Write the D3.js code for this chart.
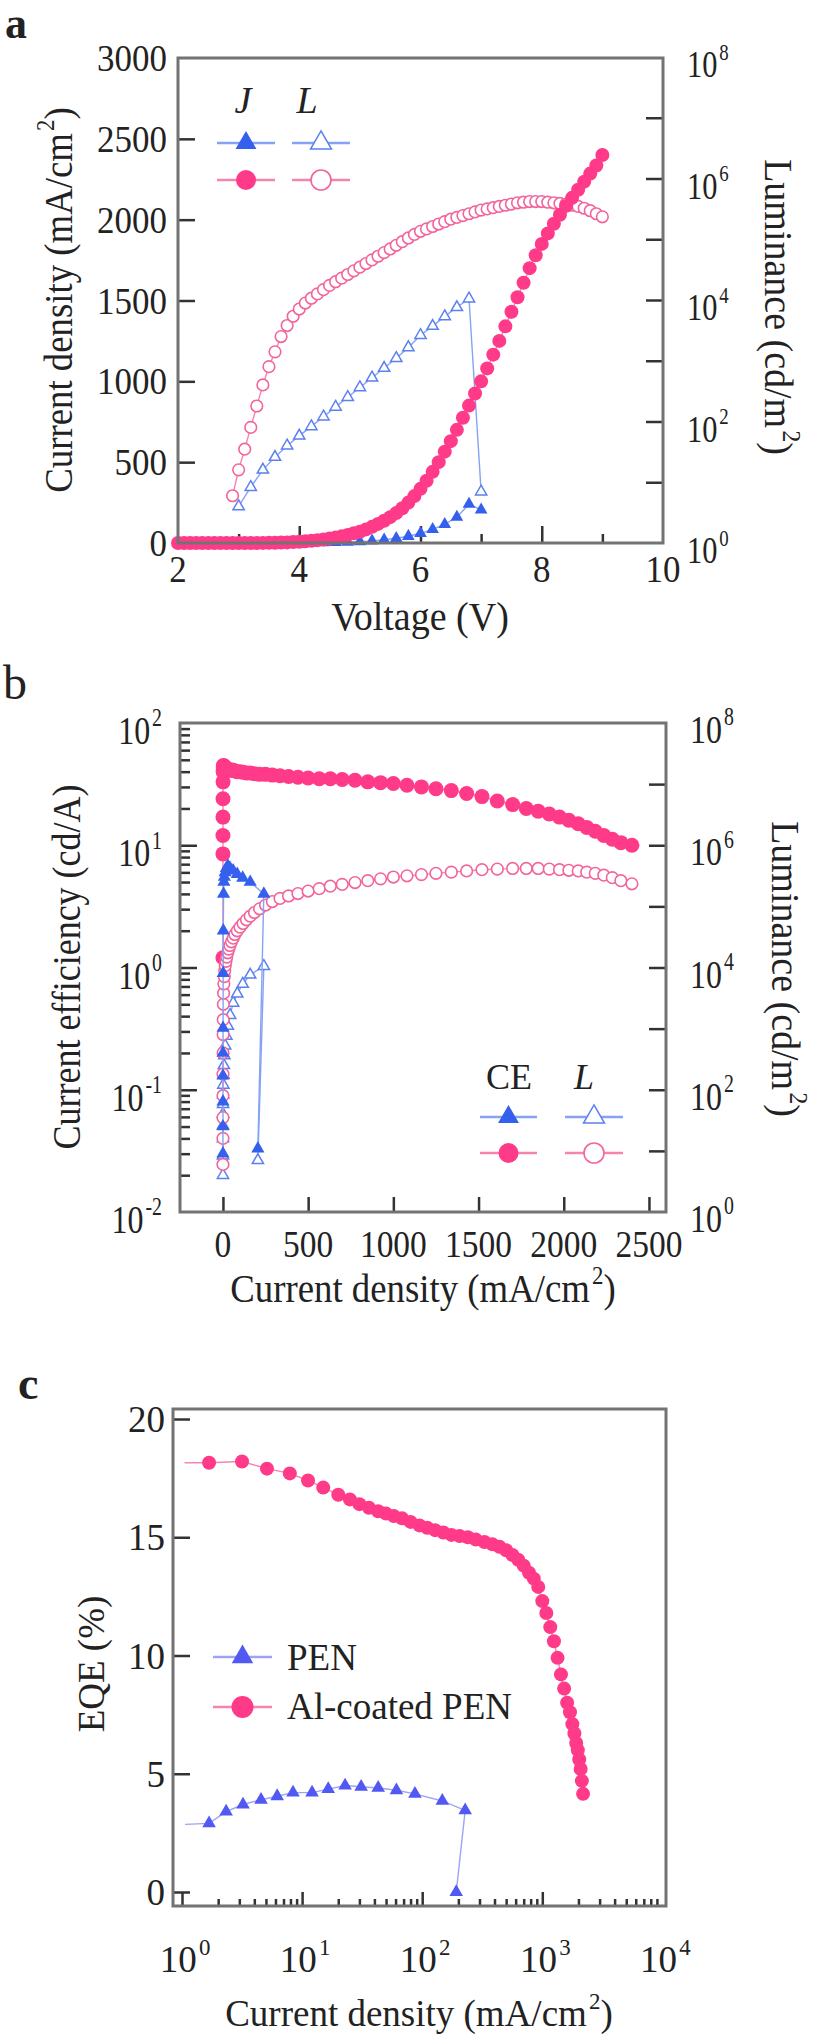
<!DOCTYPE html>
<html>
<head>
<meta charset="utf-8">
<script src="https://d3js.org/d3.v7.min.js"></script>
<style>
  body { margin: 0; background: #fff; }
  svg text { font-family: "Liberation Serif", "DejaVu Serif", serif; fill: #222; }
</style>
</head>
<body>
<script>
// ---------- data ----------
// panel a / b : Al-coated PEN device, 0.1 V steps
var voltPink = [2.0,2.1,2.2,2.3,2.4,2.5,2.6,2.7,2.8,2.9,3.0,3.1,3.2,3.3,3.4,3.5,3.6,3.7,3.8,3.9,
  4.0,4.1,4.2,4.3,4.4,4.5,4.6,4.7,4.8,4.9,5.0,5.1,5.2,5.3,5.4,5.5,5.6,5.7,5.8,5.9,
  6.0,6.1,6.2,6.3,6.4,6.5,6.6,6.7,6.8,6.9,7.0,7.1,7.2,7.3,7.4,7.5,7.6,7.7,7.8,7.9,
  8.0,8.1,8.2,8.3,8.4,8.5,8.6,8.7,8.8,8.9,9.0];
var jPink = [0,0,0,0,0,0,0,0,0,0.05,0.08,0.13,0.22,0.38,0.62,1,1.6,2.5,3.8,5.5,
  8,10.5,13.5,17.5,22,28,34,41,50,60,70,84,100,118,138,160,185,215,250,290,
  335,385,440,500,565,630,700,775,850,925,1000,1080,1165,1250,1340,1430,1520,1610,1700,1780,
  1850,1915,1975,2030,2085,2135,2185,2235,2285,2335,2400];
var lumPink = [null,null,null,null,null,null,null,null,null,6,16,35,80,180,400,800,1400,2500,3800,5400,
  7100,8900,10700,12600,14800,17400,20000,22900,26300,30200,34700,39800,45700,52500,60300,69200,79400,91200,105000,120000,
  135000,148000,162000,178000,195000,214000,229000,245000,263000,282000,302000,316000,331000,347000,363000,380000,398000,407000,417000,417000,
  417000,407000,398000,389000,380000,363000,347000,324000,295000,263000,234000];
var cePink = [null,null,null,null,null,null,null,null,null,1.2,8.5,12,17,24,33,40,43,44.5,45,44.5,
  44,43.5,43,42.5,42,42,41.5,41.5,41,41,40.5,40,40,39.5,39,39,38.5,38,38,37.5,
  37,36.5,36,35.5,35,35,34.5,34,33,32.5,32,31,30,29,28,26.5,25,23,21.5,20,
  19,18,17,16,15,14,13,12,11.2,10.5,10];

// PEN device, 0.2 V steps
var voltBlue = [2.0,2.2,2.4,2.6,2.8,3.0,3.2,3.4,3.6,3.8,4.0,4.2,4.4,4.6,4.8,5.0,5.2,5.4,5.6,5.8,6.0,6.2,6.4,6.6,6.8,7.0];
var jBlue = [0,0,0,0,0,0.02,0.05,0.1,0.2,0.4,0.75,1.3,2.2,3.5,5.5,8.5,13,20,29,42,60,84,116,160,240,205];
var lumBlue = [null,null,null,null,null,4,8.3,16,26,40,58,83,120,174,251,363,525,759,1100,1660,2630,3720,5370,7590,10500,7];
var ceBlue = [null,null,null,null,null,0.03,0.05,0.08,0.13,0.2,0.32,0.9,2,4,5,5.5,6,6.5,6.8,6.5,6.2,5.8,5.4,5,4.0,0.033];

// panel c : EQE vs current density
var eqeJPink = [1.05,1.68,3.16,5.1,7.9,11.2,15,20,25,30,36,43,50,58,68,80,95,110,128,150,175,205,240,280,330,
  385,440,500,565,630,700,775,850,925,1000,1080,1165,1250,1340,1430,1520,1610,1700,1780,1850,1915,1975,2030,2085,2135,2185];
var eqePink = [18.15,18.15,18.2,17.9,17.7,17.4,17.1,16.8,16.6,16.4,16.25,16.1,16.0,15.9,15.8,15.65,15.5,15.4,15.3,15.2,15.1,15.05,15.0,14.9,14.8,
  14.7,14.6,14.45,14.25,14.05,13.8,13.5,13.25,12.9,12.3,11.8,11.2,10.6,9.9,9.2,8.6,8.0,7.6,7.1,6.7,6.3,6.0,5.6,5.2,4.7,4.15];
var eqeJBlue = [1.06,1.68,2.33,3.22,4.55,6.2,8.4,12.1,16.5,22.8,31,43,61,87,147,228,192];
var eqeBlue = [2.86,2.9,3.4,3.7,3.9,4.05,4.2,4.2,4.35,4.5,4.45,4.4,4.3,4.15,3.85,3.45,0.0];

// tick labels
var ticksA = [0,500,1000,1500,2000,2500,3000];
var ticksAx = [2,4,6,8,10];
var powAR = [0,2,4,6,8];
var powBL = [-2,-1,0,1,2];
var powBR = [0,2,4,6,8];
var ticksBx = [0,500,1000,1500,2000,2500];
var ticksC = [0,5,10,15,20];
var powCx = [0,1,2,3,4];

// ---------- style ----------
var pink = '#ff3a88', pinkLine = '#f585ae', pinkOpen = '#f2649c';
var blue = '#3560ee', blueLine = '#86a2f3', blueOpen = '#5b80f0';
var blueC = '#5159f2', blueCLine = '#9ea3f6';
var frameCol = '#737373', tickCol = '#333';

var svg = d3.select('body').append('svg').attr('width', 827).attr('height', 2037);

function label(x, y, parts, o) {
  o = o || {};
  var F = o.size || 38;
  var tr = 'translate(' + x + ',' + y + ')';
  if (o.rot) tr += ' rotate(' + o.rot + ')';
  if (o.sx || o.sy) tr += ' scale(' + (o.sx || 1) + ',' + (o.sy || 1) + ')';
  var t = svg.append('text').attr('transform', tr)
    .attr('text-anchor', o.anchor || 'middle')
    .style('font-size', F + 'px');
  if (o.bold) t.style('font-weight', 'bold');
  if (o.italic) t.style('font-style', 'italic');
  if (typeof parts === 'string') parts = [parts];
  var up = false;
  parts.forEach(function(p) {
    var sup = typeof p === 'object';
    var s = t.append('tspan').text(sup ? p.sup : p);
    if (sup) {
      s.style('font-size', (F * 0.62) + 'px').attr('dx', F * 0.06);
      if (!up) { s.attr('dy', -F * 0.45); up = true; }
    } else if (up) { s.attr('dy', F * 0.45); up = false; }
  });
  return t;
}

function frame(x0, y0, x1, y1) {
  svg.append('rect').attr('x', x0).attr('y', y0).attr('width', x1 - x0).attr('height', y1 - y0)
    .attr('fill', 'none').attr('stroke', frameCol).attr('stroke-width', 3);
}

function ticks(scale, vals, orient, pos, len) {
  var ax = orient === 'left' ? d3.axisLeft(scale) : orient === 'right' ? d3.axisRight(scale)
         : d3.axisBottom(scale);
  ax.tickValues(vals).tickSize(-len).tickFormat('');
  var g = svg.append('g').attr('transform', orient === 'bottom' ? 'translate(0,' + pos + ')' : 'translate(' + pos + ',0)').call(ax);
  g.select('.domain').remove();
  g.selectAll('line').attr('stroke', tickCol).attr('stroke-width', 2.5);
}

function series(pts, o) {
  pts = pts.filter(function(d) { return d != null; });
  var g = svg.append('g');
  g.append('path').attr('d', d3.line()(pts)).attr('fill', 'none')
    .attr('stroke', o.line).attr('stroke-width', o.lw || 1.4);
  var data = o.skipFirst ? pts.slice(1) : pts;
  var m = g.selectAll(null).data(data).enter();
  var fill = o.open ? '#fff' : o.color;
  var sk = o.open ? o.color : 'none';
  if (o.shape === 'circle') {
    m.append('circle').attr('cx', function(d) { return d[0]; }).attr('cy', function(d) { return d[1]; })
      .attr('r', o.r).attr('fill', fill).attr('stroke', sk).attr('stroke-width', 1.6);
  } else {
    m.append('path').attr('d', d3.symbol(d3.symbolTriangle, o.size || 60)())
      .attr('transform', function(d) { return 'translate(' + d[0] + ',' + d[1] + ')'; })
      .attr('fill', fill).attr('stroke', sk).attr('stroke-width', 1.5);
  }
}

function legendRow(x0, x1, y, o) {
  svg.append('line').attr('x1', x0).attr('x2', x1).attr('y1', y).attr('y2', y)
    .attr('stroke', o.line).attr('stroke-width', 2.5);
  series([[(x0 + x1) / 2, y]], { shape: o.shape, color: o.color, open: o.open, r: o.r, size: o.size, line: 'none' });
}

// ================= panel a =================
var xA = d3.scaleLinear().domain([2, 10]).range([178, 663]);
var yA = d3.scaleLinear().domain([0, 3000]).range([543, 58]);
var yAR = d3.scaleLog().domain([1, 1e8]).range([543, 57]);

ticks(yA, ticksA.slice(1, -1), 'left', 178, 17);
ticks(yAR, [1e1, 1e2, 1e3, 1e4, 1e5, 1e6, 1e7], 'right', 663, 17);
ticks(xA, [4, 6, 8], 'bottom', 543, 17);
ticks(xA, [3, 5, 7, 9], 'bottom', 543, 9);

series(voltBlue.map(function(v, i) { return lumBlue[i] == null ? null : [xA(v), yAR(lumBlue[i])]; }),
  { shape: 'tri', open: true, color: blueOpen, line: blueLine, size: 55 });
series(voltBlue.map(function(v, i) { return [xA(v), yA(jBlue[i])]; }),
  { shape: 'tri', color: blue, line: blueLine, size: 70 });
series(voltPink.map(function(v, i) { return lumPink[i] == null ? null : [xA(v), yAR(lumPink[i])]; }),
  { shape: 'circle', open: true, color: pinkOpen, line: pinkLine, r: 5.8 });
series(voltPink.map(function(v, i) { return [xA(v), yA(jPink[i])]; }),
  { shape: 'circle', color: pink, line: pinkLine, r: 7 });
frame(178, 58, 663, 543);

ticksA.forEach(function(v) { label(167, yA(v) + 13, String(v), { anchor: 'end', size: 38, sx: 0.92 }); });
ticksAx.forEach(function(v) { label(xA(v), 582, String(v), { size: 38, sx: 0.92 }); });
powAR.forEach(function(p) { label(687, yAR(Math.pow(10, p)) + 20, ['10', { sup: String(p) }], { anchor: 'start', size: 38, sx: 0.8 }); });
label(72, 300, ['Current density (mA/cm', { sup: '2' }, ')'], { rot: -90, size: 40, sx: 0.92 });
label(765, 307, ['Luminance (cd/m', { sup: '2' }, ')'], { rot: 90, size: 40, sx: 0.95 });
label(420, 630, 'Voltage (V)', { size: 40, sx: 0.95 });
label(5, 38, 'a', { anchor: 'start', size: 44, bold: true });

// legend a
label(243, 113, 'J', { italic: true, size: 38 });
label(307, 113, 'L', { italic: true, size: 38 });
legendRow(217, 275, 143, { shape: 'tri', color: blue, line: blueLine, size: 190 });
legendRow(292, 350, 143, { shape: 'tri', open: true, color: blueOpen, line: blueLine, size: 190 });
legendRow(217, 275, 180, { shape: 'circle', color: pink, line: pinkLine, r: 10 });
legendRow(292, 350, 180, { shape: 'circle', open: true, color: pinkOpen, line: pinkLine, r: 10 });

// ================= panel b =================
var xB = d3.scaleLinear().domain([-252, 2600]).range([180, 666]);
var yB = d3.scaleLog().domain([0.01, 100]).range([1212, 723]);
var yBR = d3.scaleLog().domain([1, 1e8]).range([1212, 723]);

var minorB = [];
[-2, -1, 0, 1].forEach(function(p) { for (var k = 2; k < 10; k++) minorB.push(k * Math.pow(10, p)); });
ticks(yB, minorB, 'left', 180, 10);
ticks(yB, [0.1, 1, 10], 'left', 180, 17);
ticks(yBR, [1e1, 1e2, 1e3, 1e4, 1e5, 1e6, 1e7], 'right', 666, 17);
ticks(xB, ticksBx, 'bottom', 1212, 15);

series(voltBlue.map(function(v, i) { return lumBlue[i] == null ? null : [xB(jBlue[i]), yBR(lumBlue[i])]; }),
  { shape: 'tri', open: true, color: blueOpen, line: blueLine, size: 55 });
series(voltPink.map(function(v, i) { return cePink[i] == null ? null : [xB(jPink[i]), yB(cePink[i])]; }),
  { shape: 'circle', color: pink, line: pinkLine, r: 7.5 });
series(voltPink.map(function(v, i) { return lumPink[i] == null ? null : [xB(jPink[i]), yBR(lumPink[i])]; }),
  { shape: 'circle', open: true, color: pinkOpen, line: pinkLine, r: 5.8 });
series(voltBlue.map(function(v, i) { return ceBlue[i] == null ? null : [xB(jBlue[i]), yB(ceBlue[i])]; }),
  { shape: 'tri', color: blue, line: blueLine, size: 75 });
frame(180, 723, 666, 1212);

powBL.forEach(function(p) { label(162, yB(Math.pow(10, p)) + 21, ['10', { sup: String(p) }], { anchor: 'end', size: 39, sx: 0.82 }); });
powBR.forEach(function(p) { label(690, yBR(Math.pow(10, p)) + 20, ['10', { sup: String(p) }], { anchor: 'start', size: 39, sx: 0.82 }); });
ticksBx.forEach(function(v) { label(xB(v), 1257, String(v), { size: 38, sx: 0.88 }); });
label(80, 967, 'Current efficiency (cd/A)', { rot: -90, size: 40, sx: 0.9 });
label(772, 969, ['Luminance (cd/m', { sup: '2' }, ')'], { rot: 90, size: 40, sx: 0.95 });
label(423, 1302, ['Current density (mA/cm', { sup: '2' }, ')'], { size: 40, sx: 0.92 });
label(3, 699, 'b', { anchor: 'start', size: 48 });

// legend b
label(509, 1089, 'CE', { size: 36 });
label(584, 1089, 'L', { italic: true, size: 36 });
legendRow(480, 537, 1117, { shape: 'tri', color: blue, line: blueLine, size: 190 });
legendRow(565, 623, 1117, { shape: 'tri', open: true, color: blueOpen, line: blueLine, size: 190 });
legendRow(480, 537, 1153, { shape: 'circle', color: pink, line: pinkLine, r: 10 });
legendRow(565, 623, 1153, { shape: 'circle', open: true, color: pinkOpen, line: pinkLine, r: 10 });

// ================= panel c =================
var xC = d3.scaleLog().domain([Math.pow(10, -0.075), Math.pow(10, 4.03)]).range([173, 666]);
var yC = d3.scaleLinear().domain([0, 20]).range([1892, 1419]);

var minorC = [];
[0, 1, 2, 3].forEach(function(p) { for (var k = 2; k < 10; k++) minorC.push(k * Math.pow(10, p)); });
ticks(xC, minorC, 'bottom', 1906, 7);
ticks(xC, [1, 10, 100, 1000], 'bottom', 1906, 14);
ticks(yC, ticksC, 'left', 173, 17);

series(eqeJBlue.map(function(j, i) { return [xC(j), yC(eqeBlue[i])]; }),
  { shape: 'tri', color: blueC, line: blueCLine, size: 80, skipFirst: true });
series(eqeJPink.map(function(j, i) { return [xC(j), yC(eqePink[i])]; }),
  { shape: 'circle', color: pink, line: pinkLine, r: 7, skipFirst: true });
frame(173, 1409, 666, 1906);

ticksC.forEach(function(v) { label(165, yC(v) + 13, String(v), { anchor: 'end', size: 37 }); });
powCx.forEach(function(p) { label(xC(Math.pow(10, p)) + 3, 1972, ['10', { sup: String(p) }], { size: 37 }); });
label(104, 1664, 'EQE (%)', { rot: -90, size: 37 });
label(419, 2026, ['Current density (mA/cm', { sup: '2' }, ')'], { size: 37 });
label(18, 1399, 'c', { anchor: 'start', size: 46, bold: true });

legendRow(213, 272, 1657, { shape: 'tri', color: blueC, line: blueCLine, size: 200 });
legendRow(213, 272, 1707, { shape: 'circle', color: pink, line: pinkLine, r: 11 });
label(287, 1670, 'PEN', { anchor: 'start', size: 37 });
label(287, 1719, 'Al-coated PEN', { anchor: 'start', size: 37 });
</script>
</body>
</html>
